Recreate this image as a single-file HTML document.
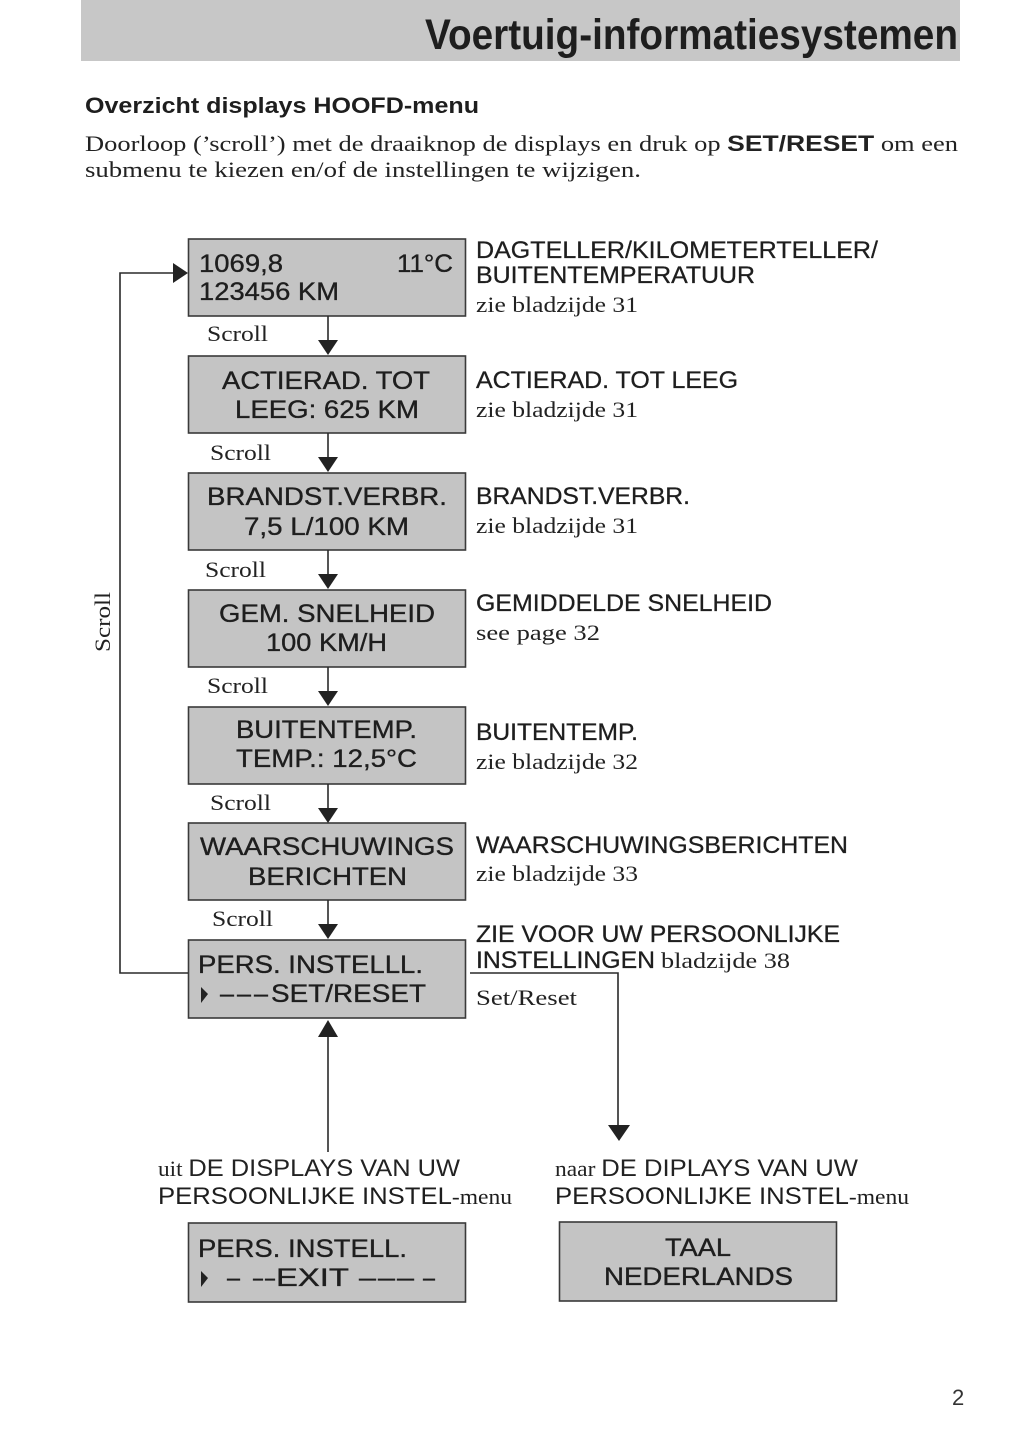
<!DOCTYPE html>
<html>
<head>
<meta charset="utf-8">
<style>
  html, body { margin:0; padding:0; background:#ffffff; }
  svg { display:block; }
  .sans { font-family: "Liberation Sans", "DejaVu Sans", sans-serif; }
  .serif { font-family: "Liberation Serif", "DejaVu Serif", serif; }
</style>
</head>
<body>
<svg width="1024" height="1449" viewBox="0 0 1024 1449" xmlns="http://www.w3.org/2000/svg">
  <rect x="0" y="0" width="1024" height="1449" fill="#ffffff"/>

  <!-- Header band -->
  <rect x="81" y="0" width="879" height="61" fill="#c7c7c7"/>
  <text x="425" y="49" class="sans" font-size="43" font-weight="bold" fill="#1e1e1e" textLength="533" lengthAdjust="spacingAndGlyphs">Voertuig-informatiesystemen</text>

  <!-- Heading -->
  <text x="85" y="113" class="sans" font-size="22" font-weight="bold" fill="#1e1e1e" textLength="394" lengthAdjust="spacingAndGlyphs">Overzicht displays HOOFD-menu</text>

  <!-- Paragraph -->
  <text x="85" y="151" class="serif" font-size="22" fill="#222" textLength="873" lengthAdjust="spacingAndGlyphs">Doorloop (’scroll’) met de draaiknop de displays en druk op <tspan class="sans" font-weight="bold">SET/RESET</tspan> om een</text>
  <text x="85" y="177" class="serif" font-size="22" fill="#222" textLength="556" lengthAdjust="spacingAndGlyphs">submenu te kiezen en/of de instellingen te wijzigen.</text>

  <!-- Boxes -->
  <g fill="#c4c4c4" stroke="#3a3a3a" stroke-width="1.6">
    <rect x="188.5" y="239" width="277" height="77"/>
    <rect x="188.5" y="356" width="277" height="77"/>
    <rect x="188.5" y="473" width="277" height="77"/>
    <rect x="188.5" y="590" width="277" height="77"/>
    <rect x="188.5" y="707" width="277" height="77"/>
    <rect x="188.5" y="823" width="277" height="77"/>
    <rect x="188.5" y="940" width="277" height="78"/>
    <rect x="188.5" y="1223" width="277" height="79"/>
    <rect x="559.5" y="1222" width="277" height="79"/>
  </g>

  <!-- Down arrows between boxes -->
  <g stroke="#2a2a2a" stroke-width="1.6">
    <line x1="328" y1="316" x2="328" y2="342"/>
    <line x1="328" y1="433" x2="328" y2="459"/>
    <line x1="328" y1="550" x2="328" y2="576"/>
    <line x1="328" y1="667" x2="328" y2="693"/>
    <line x1="328" y1="784" x2="328" y2="810"/>
    <line x1="328" y1="900" x2="328" y2="926"/>
  </g>
  <g fill="#222">
    <polygon points="318,340 338,340 328,355"/>
    <polygon points="318,457 338,457 328,472"/>
    <polygon points="318,574 338,574 328,589"/>
    <polygon points="318,691 338,691 328,706"/>
    <polygon points="318,808 338,808 328,823"/>
    <polygon points="318,924 338,924 328,939"/>
  </g>

  <!-- Left loop -->
  <g stroke="#2a2a2a" stroke-width="1.6" fill="none">
    <polyline points="188,973 120,973 120,273 175,273"/>
  </g>
  <polygon points="173,263 188,273 173,283" fill="#222"/>
  <text transform="translate(110,652) rotate(-90)" class="serif" font-size="22" fill="#222" textLength="60" lengthAdjust="spacingAndGlyphs">Scroll</text>

  <!-- Right connector Set/Reset -->
  <polyline points="470,973 618,973 618,1128" stroke="#2a2a2a" stroke-width="1.6" fill="none"/>
  <polygon points="608,1125 630,1125 619,1141" fill="#222"/>

  <!-- Up arrow from bottom -->
  <line x1="328" y1="1036" x2="328" y2="1152" stroke="#2a2a2a" stroke-width="1.6"/>
  <polygon points="318,1037 338,1037 328,1020" fill="#222"/>

  <!-- Box texts -->
  <g class="sans" font-size="25" fill="#1e1e1e" stroke="#1e1e1e" stroke-width="0.35">
    <text x="199" y="272" textLength="84" lengthAdjust="spacingAndGlyphs">1069,8</text>
    <text x="397" y="272" textLength="56" lengthAdjust="spacingAndGlyphs">11°C</text>
    <text x="199" y="300" textLength="140" lengthAdjust="spacingAndGlyphs">123456 KM</text>

    <text x="222" y="389" textLength="208" lengthAdjust="spacingAndGlyphs">ACTIERAD. TOT</text>
    <text x="235" y="418" textLength="184" lengthAdjust="spacingAndGlyphs">LEEG: 625 KM</text>

    <text x="207" y="505" textLength="240" lengthAdjust="spacingAndGlyphs">BRANDST.VERBR.</text>
    <text x="244" y="535" textLength="165" lengthAdjust="spacingAndGlyphs">7,5 L/100 KM</text>

    <text x="219" y="622" textLength="216" lengthAdjust="spacingAndGlyphs">GEM. SNELHEID</text>
    <text x="266" y="651" textLength="121" lengthAdjust="spacingAndGlyphs">100 KM/H</text>

    <text x="236" y="738" textLength="181" lengthAdjust="spacingAndGlyphs">BUITENTEMP.</text>
    <text x="236" y="767" textLength="181" lengthAdjust="spacingAndGlyphs">TEMP.: 12,5°C</text>

    <text x="200" y="855" textLength="254" lengthAdjust="spacingAndGlyphs">WAARSCHUWINGS</text>
    <text x="248" y="885" textLength="159" lengthAdjust="spacingAndGlyphs">BERICHTEN</text>

    <text x="198" y="973" textLength="225" lengthAdjust="spacingAndGlyphs">PERS. INSTELLL.</text>
    <text x="220" y="1002" textLength="14" lengthAdjust="spacingAndGlyphs">–</text>
    <text x="237" y="1002" textLength="14" lengthAdjust="spacingAndGlyphs">–</text>
    <text x="254" y="1002" textLength="14" lengthAdjust="spacingAndGlyphs">–</text>
    <text x="271" y="1002" textLength="155" lengthAdjust="spacingAndGlyphs">SET/RESET</text>

    <text x="198" y="1257" textLength="209" lengthAdjust="spacingAndGlyphs">PERS. INSTELL.</text>
    <text x="227" y="1286" textLength="13" lengthAdjust="spacingAndGlyphs">–</text>
    <text x="253" y="1286" textLength="10" lengthAdjust="spacingAndGlyphs">–</text>
    <text x="265" y="1286" textLength="10" lengthAdjust="spacingAndGlyphs">–</text>
    <text x="276" y="1286" textLength="73" lengthAdjust="spacingAndGlyphs">EXIT</text>
    <text x="359" y="1286" textLength="17" lengthAdjust="spacingAndGlyphs">–</text>
    <text x="378" y="1286" textLength="17" lengthAdjust="spacingAndGlyphs">–</text>
    <text x="397" y="1286" textLength="17" lengthAdjust="spacingAndGlyphs">–</text>
    <text x="423" y="1286" textLength="12" lengthAdjust="spacingAndGlyphs">–</text>

    <text x="665" y="1256" textLength="66" lengthAdjust="spacingAndGlyphs">TAAL</text>
    <text x="604" y="1285" textLength="189" lengthAdjust="spacingAndGlyphs">NEDERLANDS</text>
  </g>
  <!-- small pointer triangles -->
  <polygon points="201,987 208,994 201,1003" fill="#222"/>
  <polygon points="201,1271 208,1278 201,1287" fill="#222"/>

  <!-- Scroll labels -->
  <g class="serif" font-size="22" fill="#222">
    <text x="207" y="341" textLength="61" lengthAdjust="spacingAndGlyphs">Scroll</text>
    <text x="210" y="460" textLength="61" lengthAdjust="spacingAndGlyphs">Scroll</text>
    <text x="205" y="577" textLength="61" lengthAdjust="spacingAndGlyphs">Scroll</text>
    <text x="207" y="693" textLength="61" lengthAdjust="spacingAndGlyphs">Scroll</text>
    <text x="210" y="810" textLength="61" lengthAdjust="spacingAndGlyphs">Scroll</text>
    <text x="212" y="926" textLength="61" lengthAdjust="spacingAndGlyphs">Scroll</text>
  </g>

  <!-- Right labels -->
  <g class="sans" font-size="24" fill="#1e1e1e" stroke="#1e1e1e" stroke-width="0.3">
    <text x="476" y="258" textLength="402" lengthAdjust="spacingAndGlyphs">DAGTELLER/KILOMETERTELLER/</text>
    <text x="476" y="283" textLength="279" lengthAdjust="spacingAndGlyphs">BUITENTEMPERATUUR</text>
    <text x="476" y="388" textLength="262" lengthAdjust="spacingAndGlyphs">ACTIERAD. TOT LEEG</text>
    <text x="476" y="504" textLength="214" lengthAdjust="spacingAndGlyphs">BRANDST.VERBR.</text>
    <text x="476" y="611" textLength="296" lengthAdjust="spacingAndGlyphs">GEMIDDELDE SNELHEID</text>
    <text x="476" y="740" textLength="162" lengthAdjust="spacingAndGlyphs">BUITENTEMP.</text>
    <text x="476" y="853" textLength="372" lengthAdjust="spacingAndGlyphs">WAARSCHUWINGSBERICHTEN</text>
    <text x="476" y="942" textLength="364" lengthAdjust="spacingAndGlyphs">ZIE VOOR UW PERSOONLIJKE</text>
    <text x="476" y="968" textLength="179" lengthAdjust="spacingAndGlyphs">INSTELLINGEN</text>
  </g>
  <g class="serif" font-size="22" fill="#222">
    <text x="476" y="312" textLength="162" lengthAdjust="spacingAndGlyphs">zie bladzijde 31</text>
    <text x="476" y="417" textLength="162" lengthAdjust="spacingAndGlyphs">zie bladzijde 31</text>
    <text x="476" y="533" textLength="162" lengthAdjust="spacingAndGlyphs">zie bladzijde 31</text>
    <text x="476" y="640" textLength="124" lengthAdjust="spacingAndGlyphs">see page 32</text>
    <text x="476" y="769" textLength="162" lengthAdjust="spacingAndGlyphs">zie bladzijde 32</text>
    <text x="476" y="881" textLength="162" lengthAdjust="spacingAndGlyphs">zie bladzijde 33</text>
    <text x="661" y="968" textLength="129" lengthAdjust="spacingAndGlyphs">bladzijde 38</text>
    <text x="476" y="1005" textLength="101" lengthAdjust="spacingAndGlyphs">Set/Reset</text>
  </g>

  <!-- Bottom captions -->
  <text x="158" y="1176" class="serif" font-size="22" fill="#222" textLength="302" lengthAdjust="spacingAndGlyphs">uit <tspan class="sans" font-size="24">DE DISPLAYS VAN UW</tspan></text>
  <text x="158" y="1204" class="sans" font-size="24" fill="#1e1e1e" textLength="354" lengthAdjust="spacingAndGlyphs">PERSOONLIJKE INSTEL<tspan class="serif" font-size="22">-menu</tspan></text>
  <text x="555" y="1176" class="serif" font-size="22" fill="#222" textLength="303" lengthAdjust="spacingAndGlyphs">naar <tspan class="sans" font-size="24">DE DIPLAYS VAN UW</tspan></text>
  <text x="555" y="1204" class="sans" font-size="24" fill="#1e1e1e" textLength="354" lengthAdjust="spacingAndGlyphs">PERSOONLIJKE INSTEL<tspan class="serif" font-size="22">-menu</tspan></text>

  <!-- Page number fragment -->
  <text x="952" y="1405" class="sans" font-size="22" fill="#333">2</text>
</svg>
</body>
</html>
